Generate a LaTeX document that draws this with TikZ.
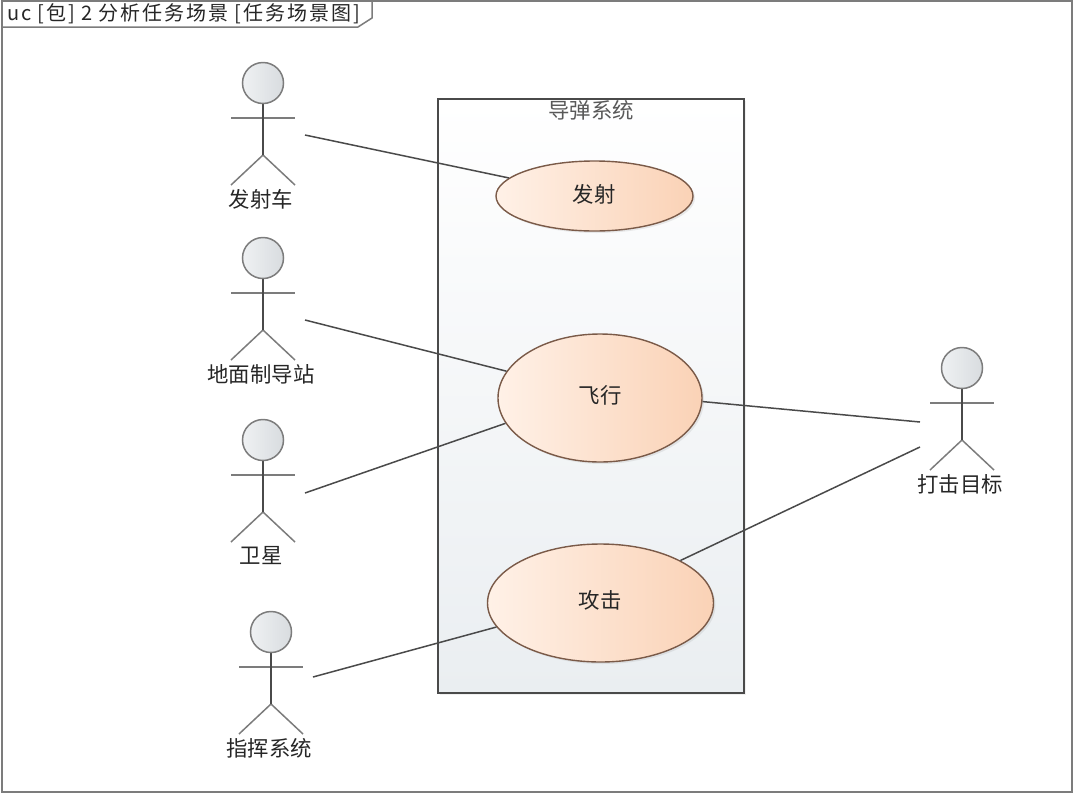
\documentclass[tikz,border=0pt]{standalone}
\usepackage{fontspec}
\usetikzlibrary{shapes.geometric,shadows}
\newfontfamily\cjk{Noto Sans CJK SC}
\newfontfamily\cjkwide[LetterSpace=9.5]{Noto Sans CJK SC}
\definecolor{lineC}{HTML}{4A4A4A}
\definecolor{limbC}{HTML}{7C7C7C}
\definecolor{edgeC}{HTML}{7A5A48}
\definecolor{caseL}{HTML}{FFF1E7}
\definecolor{caseR}{HTML}{FAD2B6}
\definecolor{headL}{HTML}{EFF1F3}
\definecolor{headR}{HTML}{D8DCDF}
\definecolor{boxB}{HTML}{EAEEF1}
\tikzset{
  usecase/.style={ellipse, draw=edgeC, line width=1.4pt, inner sep=0pt,
    left color=caseL, right color=caseR,
    drop shadow={shadow xshift=2pt, shadow yshift=-2pt, opacity=0.15}},
  label/.style={font=\cjk\fontsize{21.4}{25}\selectfont, text=black!85},
  assoc/.style={draw=lineC, line width=1.5pt},
  limb/.style={draw=limbC, line width=1.5pt},
}
% one stick figure, #1 is its name
\newcommand{\Actor}[4]{
  \begin{scope}[shift={(#2,#3)}]
    \draw[limb] (-32,35) -- (32,35); % arms
    \draw[limb] (-32,102) -- (0,72) -- (32,102); % legs
    \draw[assoc] (0,21) -- (0,72); % body
    \node[circle, draw=limbC, line width=1.5pt, minimum size=41pt, inner sep=0pt,
      left color=headL, right color=headR] (#1) at (0,0) {};
    \node[label] (#1Label) at (-2,116) {#4};
  \end{scope}
}

\begin{document}
\begin{tikzpicture}[x=1pt, y=-1pt]
  \useasboundingbox (0,0) rectangle (1080,796);

  % frame and its tab
  \draw[draw=limbC, line width=1.5pt] (2,1) rectangle (1072,792);
  \draw[draw=limbC, line width=1.5pt, fill=white]
  (2,1) -- (2,27) -- (358,27) -- (372,18) -- (372,1) -- cycle;
  \node[label, font=\cjkwide\fontsize{20}{24}\selectfont, anchor=west, inner sep=0pt] (frameTitle)
  at (7,14) {uc [包] 2 分析任务场景 [任务场景图]};

  % system boundary
  \draw[draw=lineC, line width=1.3pt, top color=white, bottom color=boxB,
    drop shadow={shadow xshift=2pt, shadow yshift=-2pt, opacity=0.12}]
  (438,99) rectangle (744,693);
  \node[label, text=black!65] (systemTitle) at (591,110) {导弹系统};

  % use cases
  \node[usecase, minimum width=197pt, minimum height=70pt] (launch) at (594.5,196) {};
  \node[usecase, minimum width=204pt, minimum height=128pt] (flight) at (600,398) {};
  \node[usecase, minimum width=226pt, minimum height=118pt] (strike) at (600.5,603) {};
  \node[label] at (594,194) {发射};
  \node[label] at (600,395) {飞行};
  \node[label] at (600,600) {攻击};

  % actors
  \Actor{launcher}{263}{83}{发射车}
  \Actor{station}{263}{258}{地面制导站}
  \Actor{satellite}{263}{440}{卫星}
  \Actor{command}{271}{632}{指挥系统}
  \Actor{target}{962}{368}{打击目标}

  % free ends of the lines
  \coordinate (launcherEnd) at (305,135);
  \coordinate (stationEnd) at (305,320);
  \coordinate (satelliteEnd) at (305,493);
  \coordinate (commandEnd) at (313,677);
  \coordinate (targetEndA) at (920,422);
  \coordinate (targetEndB) at (920,447);

  \draw[assoc] (launcherEnd) -- (launch); % launcher->launch
  \draw[assoc] (stationEnd) -- (flight.164); % station->flight
  \draw[assoc] (satelliteEnd) -- (flight.195); % satellite->flight
  \draw[assoc] (commandEnd) -- (strike.193); % command->strike
  \draw[assoc] (targetEndA) -- (flight.-2); % target->flight
  \draw[assoc] (targetEndB) -- (strike.28); % target->strike
\end{tikzpicture}
\end{document}
